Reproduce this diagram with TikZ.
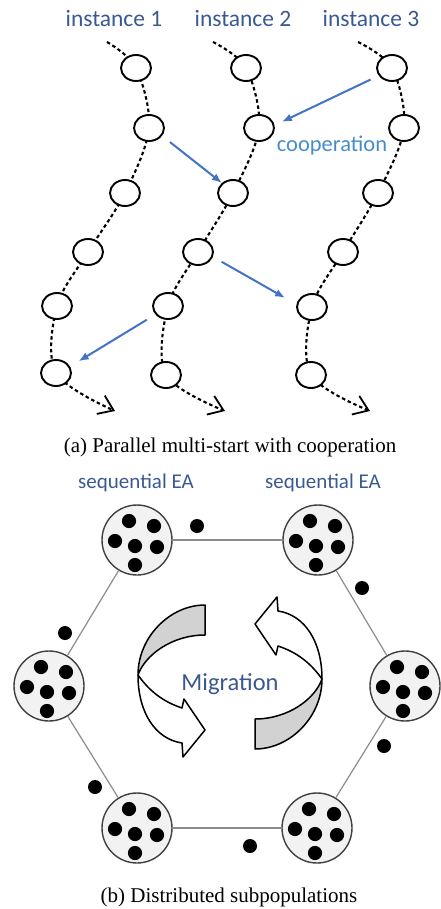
\documentclass[tikz,border=0pt]{standalone}
\usepackage{fontspec}
\setmainfont{Liberation Serif}
\newfontfamily\calib{Carlito}
\usetikzlibrary{arrows.meta,shapes.geometric,backgrounds}
\definecolor{labelblue}{RGB}{59,89,145}
\definecolor{coopblue}{RGB}{70,140,200}
\definecolor{arrowblue}{RGB}{68,114,196}
\definecolor{ribbongray}{RGB}{210,210,210}
\newcommand\migarrowshape{%
  \filldraw[ribbon, fill=ribbongray] (-25,-72) .. controls (-60,-72) and (-92,-40) .. (-92,-2)
     .. controls (-85,-22) and (-58,-42) .. (-25,-42) -- cycle;
  \filldraw[ribbon, fill=white] (-92,-2) .. controls (-80,15) and (-66,25) .. (-48,31)
     -- (-46,22) -- (-25,53) -- (-47,80) -- (-48,66)
     .. controls (-75,62) and (-92,35) .. (-92,-2) -- cycle;
}
\begin{document}
\begin{tikzpicture}[x=1pt,y=-1pt,
  stepcirc/.style={ellipse, draw, line width=1.9pt, minimum width=30pt, minimum height=26pt, inner sep=0pt, fill=white},
  chainline/.style={line width=2.1pt, dash pattern=on 3.5pt off 2.8pt, -{Straight Barb[length=14pt,width=20pt,line width=1.8pt]}},
  coop/.style={arrowblue, line width=2pt, -{Latex[length=10pt,width=8pt]}},
  pop/.style={circle, draw=black!75, fill=black!5, line width=1.4pt, minimum size=70pt, inner sep=0pt},
  hexedge/.style={draw=black!45, line width=1.2pt},
  ribbon/.style={draw=black, line width=1.5pt, line join=round},
  lbl/.style={font=\calib\fontsize{23.5}{26}\selectfont, text=labelblue, anchor=base, inner sep=0pt},
  captxt/.style={font=\fontsize{21}{24}\selectfont, anchor=base, inner sep=0pt}
]
\useasboundingbox (0,0) rectangle (441,909);

% ---------- (a) ----------
\node[lbl] (l1) at (114,27) {instance 1};
\node[lbl] (l2) at (243,27) {instance 2};
\node[lbl] (l3) at (371,27) {instance 3};

\coordinate (s1) at (107,42);
\coordinate (s2) at (213,42);
\coordinate (s3) at (358,42);
\coordinate (e1) at (115,411);
\coordinate (e2) at (225,411);
\coordinate (e3) at (370,411);

\node[stepcirc] (i1c1) at (136,68) {};
\node[stepcirc] (i1c2) at (149,128) {};
\node[stepcirc] (i1c3) at (125,193) {};
\node[stepcirc] (i1c4) at (88,252) {};
\node[stepcirc] (i1c5) at (57,306) {};
\node[stepcirc] (i1c6) at (56,373) {};

\node[stepcirc] (i2c1) at (246,68) {};
\node[stepcirc] (i2c2) at (259,128) {};
\node[stepcirc] (i2c3) at (233,193) {};
\node[stepcirc] (i2c4) at (198,252) {};
\node[stepcirc] (i2c5) at (168,306) {};
\node[stepcirc] (i2c6) at (166,375) {};

\node[stepcirc] (i3c1) at (392,68) {};
\node[stepcirc] (i3c2) at (404,128) {};
\node[stepcirc] (i3c3) at (378,193) {};
\node[stepcirc] (i3c4) at (343,252) {};
\node[stepcirc] (i3c5) at (312,307) {};
\node[stepcirc] (i3c6) at (311,375) {};

\begin{pgfonlayer}{background}
\draw[chainline] plot[smooth, tension=0.55] coordinates {(s1) (i1c1) (i1c2) (i1c3) (i1c4) (i1c5) (i1c6) (e1)};
\draw[chainline] plot[smooth, tension=0.55] coordinates {(s2) (i2c1) (i2c2) (i2c3) (i2c4) (i2c5) (i2c6) (e2)};
\draw[chainline] plot[smooth, tension=0.55] coordinates {(s3) (i3c1) (i3c2) (i3c3) (i3c4) (i3c5) (i3c6) (e3)};
\end{pgfonlayer}

\draw[coop, shorten <=10pt] (i1c2.-31) -- (i2c3.138);
\draw[coop, shorten <=9pt, shorten >=8pt] (i3c1.210) -- (i2c2.10);
\draw[coop, shorten <=10pt, shorten >=13pt] (i2c4.-18) -- (i3c5.170);
\draw[coop, shorten <=10pt, shorten >=10pt] (i2c5.214) -- (i1c6.25);

\node[lbl, text=coopblue, font=\calib\fontsize{22.5}{25}\selectfont] (coopl) at (332,152) {cooperation};

\node[captxt] (capa) at (230,452) {(a) Parallel multi-start with cooperation};

% ---------- (b) ----------
\node[lbl, font=\calib\fontsize{21}{24}\selectfont] (sq1) at (136,488) {sequential EA};
\node[lbl, font=\calib\fontsize{21}{24}\selectfont] (sq2) at (323,488) {sequential EA};

\node[pop] (ptl) at (137,540) {};
\node[pop] (ptr) at (318,540) {};
\node[pop] (pl) at (49,686) {};
\node[pop] (pr) at (405,686) {};
\node[pop] (pbl) at (137,828) {};
\node[pop] (pbr) at (317,828) {};

\draw[hexedge] (ptl) -- (ptr);
\draw[hexedge] (ptr) -- (pr);
\draw[hexedge] (pr) -- (pbr);
\draw[hexedge] (pbr) -- (pbl);
\draw[hexedge] (pbl) -- (pl);
\draw[hexedge] (pl) -- (ptl);

\foreach \p in {ptl,ptr,pl,pr,pbl,pbr}{
  \foreach \dx/\dy in {-8/-19, 17/-14, -22/1, -2/6, 20/7, -2/25}{
    \fill ([shift={(\dx,\dy)}]\p.center) circle[radius=7.1pt];
  }
}

\foreach \x/\y in {197/526, 362/588, 65/633, 384/746, 95/787, 250/846}{
  \fill (\x,\y) circle[radius=7pt];
}

\begin{scope}[shift={(230,677)}]
  \migarrowshape
\end{scope}
\begin{scope}[shift={(230,677)}, rotate=180]
  \migarrowshape
\end{scope}

\node[lbl, font=\calib\fontsize{24.5}{27}\selectfont] (mig) at (230,690) {Migration};

\node[captxt] (capb) at (229,902) {(b) Distributed subpopulations};
\end{tikzpicture}
\end{document}
